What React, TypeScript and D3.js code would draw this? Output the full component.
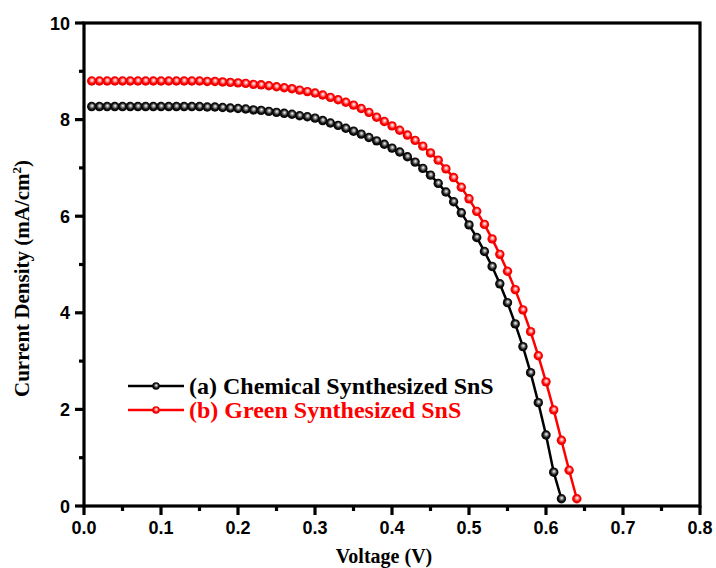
import React from "react";
import * as d3 from "d3";

const voltsA = d3.range(1, 63).map((i) => i / 100);
const voltsB = d3.range(1, 65).map((i) => i / 100);

const currentA = [
  8.27, 8.27, 8.27, 8.27, 8.27, 8.27, 8.27, 8.27, 8.27, 8.27,
  8.27, 8.27, 8.27, 8.27, 8.27, 8.26, 8.26, 8.25, 8.24, 8.23,
  8.22, 8.20, 8.19, 8.17, 8.15, 8.13, 8.11, 8.08, 8.06, 8.03,
  7.98, 7.93, 7.88, 7.82, 7.76, 7.70, 7.63, 7.56, 7.49, 7.41,
  7.33, 7.23, 7.12, 6.99, 6.85, 6.68, 6.50, 6.30, 6.07, 5.82,
  5.56, 5.27, 4.96, 4.60, 4.21, 3.77, 3.30, 2.76, 2.14, 1.47,
  0.70, 0.15,
];

const currentB = [
  8.80, 8.80, 8.80, 8.80, 8.80, 8.80, 8.80, 8.80, 8.80, 8.80,
  8.80, 8.80, 8.80, 8.80, 8.80, 8.79, 8.79, 8.78, 8.77, 8.76,
  8.75, 8.73, 8.72, 8.70, 8.68, 8.66, 8.64, 8.61, 8.58, 8.55,
  8.51, 8.46, 8.41, 8.36, 8.30, 8.23, 8.15, 8.05, 7.96, 7.87,
  7.78, 7.68, 7.57, 7.45, 7.31, 7.16, 6.98, 6.80, 6.60, 6.36,
  6.10, 5.83, 5.53, 5.21, 4.86, 4.48, 4.06, 3.61, 3.11, 2.57,
  1.99, 1.36, 0.74, 0.15,
];

const xTicks = [0, 0.1, 0.2, 0.3, 0.4, 0.5, 0.6, 0.7, 0.8];
const yTicks = [0, 2, 4, 6, 8, 10];
const legendLabels = ["(a) Chemical Synthesized SnS", "(b) Green Synthesized SnS"];
const colors = ["#000000", "#ff0000"];

const W = 716;
const H = 568;
const L = 84, R = 700, T = 23, B = 506;

export default function App() {
  const x = d3.scaleLinear().domain([0, 0.8]).range([L, R]);
  const y = d3.scaleLinear().domain([0, 10]).range([B, T]);
  const line = d3.line<[number, number]>().x((d) => x(d[0])).y((d) => y(d[1]));
  const series = [
    voltsA.map((v, i) => [v, currentA[i]] as [number, number]),
    voltsB.map((v, i) => [v, currentB[i]] as [number, number]),
  ];
  const xMinor = d3.range(0, 17).map((i) => i * 0.05).filter((_, i) => i % 2 === 1);
  const yMinor = d3.range(0, 5).map((i) => i * 2 + 1);
  const bold = "'Liberation Sans', Arial, sans-serif";
  const serif = "'Liberation Serif', 'Times New Roman', serif";
  const r = 4.7;

  return (
    <svg width={W} height={H} style={{ position: "absolute", left: 0, top: 0, background: "#fff" }}>
      <defs>
        <radialGradient id="gBlack" cx="0.5" cy="0.5" r="0.55" fx="0.55" fy="0.4">
          <stop offset="0" stopColor="#ffffff" />
          <stop offset="0.3" stopColor="#888888" />
          <stop offset="0.6" stopColor="#111111" />
          <stop offset="1" stopColor="#000000" />
        </radialGradient>
        <radialGradient id="gRed" cx="0.5" cy="0.5" r="0.55" fx="0.55" fy="0.4">
          <stop offset="0" stopColor="#ffffff" />
          <stop offset="0.3" stopColor="#ff9090" />
          <stop offset="0.6" stopColor="#ff0000" />
          <stop offset="1" stopColor="#e00000" />
        </radialGradient>
      </defs>
      <rect x={0} y={0} width={W} height={H} fill="#fff" />
      {series.map((s, k) => (
        <g key={k}>
          <path d={line(s) || ""} fill="none" stroke={colors[k]} strokeWidth={2.5} />
          {s.map((d, i) => (
            <circle key={i} cx={x(d[0])} cy={y(d[1])} r={r} fill={`url(#${k === 0 ? "gBlack" : "gRed"})`} />
          ))}
        </g>
      ))}
      <rect x={L} y={T} width={R - L} height={B - T} fill="none" stroke="#000" strokeWidth={3.2} />
      {xTicks.map((t) => (
        <g key={"x" + t}>
          <line x1={x(t)} x2={x(t)} y1={B} y2={B + 9} stroke="#000" strokeWidth={3.2} />
          <text x={x(t)} y={B + 28} textAnchor="middle" fontFamily={bold} fontWeight="bold" fontSize={18}>
            {t.toFixed(1)}
          </text>
        </g>
      ))}
      {xMinor.map((t) => (
        <line key={"xm" + t} x1={x(t)} x2={x(t)} y1={B} y2={B + 5} stroke="#000" strokeWidth={3.2} />
      ))}
      {yTicks.map((t) => (
        <g key={"y" + t}>
          <line x1={L - 9} x2={L} y1={y(t)} y2={y(t)} stroke="#000" strokeWidth={3.2} />
          <text x={L - 14} y={y(t) + 6.5} textAnchor="end" fontFamily={bold} fontWeight="bold" fontSize={18}>
            {t}
          </text>
        </g>
      ))}
      {yMinor.map((t) => (
        <line key={"ym" + t} x1={L - 5} x2={L} y1={y(t)} y2={y(t)} stroke="#000" strokeWidth={3.2} />
      ))}
      <text x={(L + R) / 2 - 8} y={563} textAnchor="middle" fontFamily={serif} fontWeight="bold" fontSize={20}>
        Voltage (V)
      </text>
      <text
        transform={`translate(29, ${(T + B) / 2 + 14}) rotate(-90)`}
        textAnchor="middle"
        fontFamily={serif}
        fontWeight="bold"
        fontSize={21}
      >
        Current Density (mA/cm<tspan dy={-8} fontSize={13}>2</tspan><tspan dy={8}>)</tspan>
      </text>
      {legendLabels.map((lab, k) => {
        const ly = 386 + k * 24;
        return (
          <g key={lab}>
            <line x1={128} x2={184} y1={ly} y2={ly} stroke={colors[k]} strokeWidth={2.5} />
            <circle cx={156} cy={ly} r={3.8} fill={`url(#${k === 0 ? "gBlack" : "gRed"})`} />
            <text x={189} y={ly + 8} fontFamily={serif} fontWeight="bold" fontSize={24} fill={colors[k]}>
              {lab}
            </text>
          </g>
        );
      })}
    </svg>
  );
}
